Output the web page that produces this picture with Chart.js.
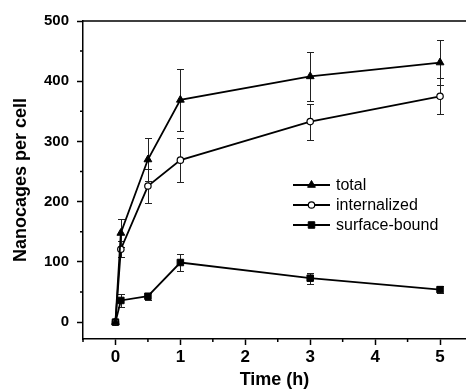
<!DOCTYPE html>
<html><head><meta charset="utf-8">
<script src="https://cdn.jsdelivr.net/npm/chart.js@4/dist/chart.umd.min.js"></script>
<style>html,body{margin:0;padding:0;background:#fff}#w{width:466px;height:391px;position:relative}</style>
</head><body><div id="w"><canvas id="c" width="466" height="391"></canvas></div>
<script>
const times = [0, 0.083, 0.5, 1, 3, 5];
const totalVals = [0, 148, 270, 369, 408, 431];
const totalErr = [0, 23, 36, 52, 40, 38];
const internalVals = [0, 121, 226, 269, 333, 375];
const internalErr = [0, 13, 29, 37, 30, 30];
const surfaceVals = [0, 36, 43, 99, 73, 54];
const surfaceErr = [0, 11, 6, 14, 9, 6];
const seriesLabels = ['total', 'internalized', 'surface-bound'];
const yMinorTicks = [50, 150, 250, 350, 450];
const xMinorTicks = [-0.5, 0.5, 1.5, 2.5, 3.5, 4.5];
const xTitle = 'Time (h)';
const yTitle = 'Nanocages per cell';

const FONT = '"Liberation Sans", Arial, sans-serif';
const errs = [totalErr, internalErr, surfaceErr];
const pts = (vals) => times.map((t, i) => ({x: t, y: vals[i]}));

const extras = {
  id: 'extras',
  beforeDatasetsDraw(chart) {
    const ctx = chart.ctx, xs = chart.scales.x, ys = chart.scales.y;
    ctx.save();
    ctx.strokeStyle = '#222';
    ctx.lineWidth = 1;
    chart.data.datasets.forEach((ds, di) => {
      ds.data.forEach((p, i) => {
        const e = errs[di][i];
        if (!e) return;
        const px = Math.round(xs.getPixelForValue(p.x)) + 0.5;
        const y1 = Math.round(ys.getPixelForValue(p.y + e)) + 0.5, y2 = Math.round(ys.getPixelForValue(p.y - e)) + 0.5;
        ctx.beginPath();
        ctx.moveTo(px, y1); ctx.lineTo(px, y2);
        ctx.moveTo(px - 3.5, y1); ctx.lineTo(px + 3.5, y1);
        ctx.moveTo(px - 3.5, y2); ctx.lineTo(px + 3.5, y2);
        ctx.stroke();
      });
    });
    ctx.restore();
  },
  afterDraw(chart) {
    const ctx = chart.ctx, xs = chart.scales.x, ys = chart.scales.y, a = chart.chartArea;
    ctx.save();
    ctx.strokeStyle = '#000';
    ctx.lineWidth = 1.5;
    ctx.beginPath();
    ctx.moveTo(a.left, a.top); ctx.lineTo(a.right, a.top);
    yMinorTicks.forEach(v => { const y = ys.getPixelForValue(v); ctx.moveTo(a.left - 3, y); ctx.lineTo(a.left, y); });
    xMinorTicks.forEach(v => { const x = xs.getPixelForValue(v); ctx.moveTo(x, a.bottom); ctx.lineTo(x, a.bottom + 3); });
    ctx.stroke();
    // legend
    const lx0 = a.left + 210, lx1 = a.left + 247, mx = (lx0 + lx1) / 2, tx = a.left + 253;
    chart.data.datasets.forEach((ds, i) => {
      const y = a.top + 164 + 20 * i;
      ctx.strokeStyle = '#000';
      ctx.lineWidth = 1.8;
      ctx.beginPath(); ctx.moveTo(lx0, y); ctx.lineTo(lx1, y); ctx.stroke();
      ctx.fillStyle = ds.pointBackgroundColor;
      ctx.strokeStyle = '#000';
      ctx.lineWidth = ds.pointBorderWidth;
      Chart.helpers.drawPoint(ctx, {pointStyle: ds.pointStyle, radius: ds.pointRadius, borderWidth: ds.pointBorderWidth, rotation: 0}, mx, y);
      ctx.fillStyle = '#000';
      ctx.font = '16px ' + FONT;
      ctx.textBaseline = 'middle';
      ctx.textAlign = 'left';
      ctx.fillText(ds.label, tx, y + 1);
    });
    ctx.restore();
  }
};

const mk = (label, vals, style, r, fill, bw) => ({
  label, data: pts(vals), borderColor: '#000', borderWidth: 1.8, tension: 0,
  pointStyle: style, pointRadius: r, pointHoverRadius: r,
  pointBackgroundColor: fill, pointBorderColor: '#000', pointBorderWidth: bw,
  fill: false, clip: false
});

new Chart(document.getElementById('c'), {
  type: 'line',
  data: {
    datasets: [
      mk(seriesLabels[0], totalVals, 'triangle', 4.5, '#000', 1),
      mk(seriesLabels[1], internalVals, 'circle', 3.2, '#fff', 1.2),
      mk(seriesLabels[2], surfaceVals, 'rect', 4.6, '#000', 1)
    ]
  },
  options: {
    responsive: false, animation: false, devicePixelRatio: 1,
    layout: {autoPadding: false, padding: {top: 21, left: 0, right: 0, bottom: 0}},
    plugins: {legend: {display: false}, tooltip: {enabled: false}},
    scales: {
      x: {
        type: 'linear', min: -0.5, max: 5.4,
        afterFit: s => { s.height = 52; s.paddingLeft = 0; s.paddingRight = 0; },
        ticks: {stepSize: 1, includeBounds: false, color: '#000', padding: 2,
          font: {family: FONT, size: 17, weight: 'bold'}, maxRotation: 0},
        grid: {drawOnChartArea: false, drawTicks: true, tickLength: 6, tickColor: '#000', tickWidth: 1.5},
        border: {display: true, color: '#000', width: 1.5},
        title: {display: true, text: xTitle, color: '#000', padding: {top: 0, bottom: 0},
          font: {family: FONT, size: 18, weight: 'bold'}}
      },
      y: {
        type: 'linear', min: -28, max: 500,
        afterFit: s => { s.width = 83; s.paddingTop = 0; s.paddingBottom = 0; },
        ticks: {stepSize: 100, includeBounds: false, color: '#000', padding: 8,
          font: {family: FONT, size: 15, weight: 'bold'}},
        grid: {drawOnChartArea: false, drawTicks: true, tickLength: 6, tickColor: '#000', tickWidth: 1.5},
        border: {display: true, color: '#000', width: 1.5},
        title: {display: true, text: yTitle, color: '#000', padding: {top: 10, bottom: 0},
          font: {family: FONT, size: 18, weight: 'bold'}}
      }
    }
  },
  plugins: [extras]
});
</script>
</body></html>
